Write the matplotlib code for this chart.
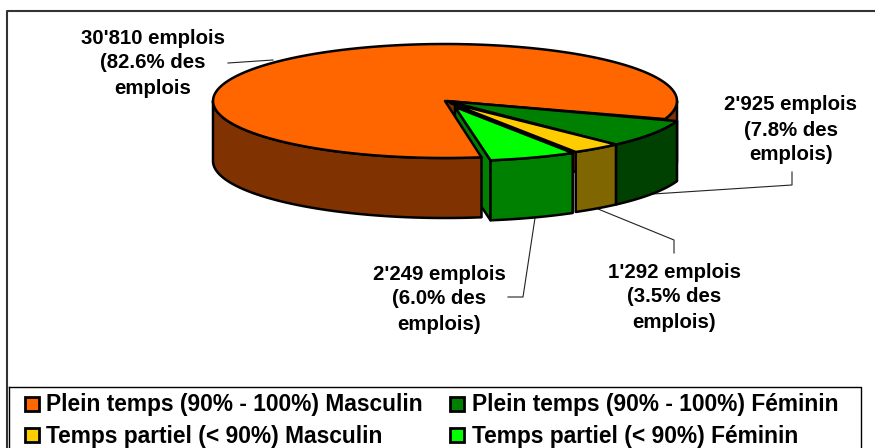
import numpy as np
import matplotlib
matplotlib.use("Agg")
import matplotlib.pyplot as plt
from matplotlib.patches import Polygon, Rectangle

plt.rcParams['font.family'] = ['Liberation Sans', 'DejaVu Sans']

# data, in drawing order round the pie (clockwise from the right)
emplois = [2925, 1292, 2249, 30810]
labels = ["2'925 emplois\n(7.8% des\nemplois)",
          "1'292 emplois\n(3.5% des\nemplois)",
          "2'249 emplois\n(6.0% des\nemplois)",
          "30'810 emplois\n(82.6% des\nemplois"]
legend_names = ["Plein temps (90% - 100%) Masculin", "Plein temps (90% - 100%) Féminin",
                "Temps partiel (< 90%) Masculin", "Temps partiel (< 90%) Féminin"]
legend_cols = ["#ff6600", "#008000", "#ffcc00", "#00ff00"]

top_cols = ["#008000", "#ffcc00", "#00ff00", "#ff6600"]
side_cols = ["#004000", "#806600", "#008000", "#803300"]
# pixel shifts of each slice: outer edge and apex
rim_shift = [(12, 2), (12, 2), (9, 3), (0, 0)]
tip_shift = [(2, 0), (5, 2), (10, 6), (0, 0)]
label_xy = [(791, 130), (674, 297), (439, 299), (153, 63)]
leaders = [[(653, 194), (792, 185), (792, 172)],
           [(598, 209), (674, 240), (674, 253)],
           [(535, 218), (523, 297), (508, 297)],
           [(273, 60), (228, 63)]]

cx, cy, rx, ry, depth = 445, 101, 232, 57, 60
start = 18.5
LW = 1.8

fig = plt.figure(figsize=(8.75, 4.48), dpi=100)
ax = fig.add_axes([0, 0, 1, 1])
ax.set_xlim(0, 875)
ax.set_ylim(448, 0)
ax.axis("off")


def arc(t0, t1, shift=(0, 0), dz=0):
    t = np.radians(np.linspace(t0, t1, 120))
    return np.column_stack([cx + shift[0] + rx * np.cos(t),
                            cy + shift[1] + dz + ry * np.sin(t)])


def poly(pts, col, z):
    ax.add_patch(Polygon(pts, closed=True, fc=col, ec="black", lw=LW, joinstyle="round", zorder=z))


def wall(t0, t1, shift, col, z):
    a = arc(t0, t1, shift)
    b = arc(t0, t1, shift, depth)
    poly(np.vstack([a, b[::-1]]), col, z)


# frame
ax.plot([7, 7, 875], [448, 11, 11], color="#333333", lw=1.5, zorder=1)

angles = start + np.cumsum([0] + emplois) / sum(emplois) * 360

# orange first, the small slices sit in front of it
t0, t1 = angles[3], angles[4]
# inner cut face of the orange, seen behind the small slices
out = arc(t1, t1)[0]
poly([[cx, cy], out, out + [0, depth], [cx, cy + depth]], side_cols[3], 2)
# cut face of the light green slice shows as a strip beside the orange
tip = np.array([cx + tip_shift[2][0], cy + tip_shift[2][1]])
out = arc(angles[3], angles[3], rim_shift[2])[0]
poly([tip, out, out + [0, depth], tip + [0, depth]], side_cols[2], 2.5)
wall(t0, 180, (0, 0), side_cols[3], 3)
wall(360, t1, (0, 0), side_cols[3], 3)
poly(np.vstack([[cx, cy], arc(t0, t1)]), top_cols[3], 4)

for i in range(3):
    t0, t1 = angles[i], angles[i + 1]
    wall(t0, t1, rim_shift[i], side_cols[i], 5 + i)
    tip = (cx + tip_shift[i][0], cy + tip_shift[i][1])
    poly(np.vstack([[tip], arc(t0, t1, rim_shift[i])]), top_cols[i], 5 + i)

# value labels and leader lines
for lab, (x, y), line in zip(labels, label_xy, leaders):
    ax.text(x, y, lab, ha="center", va="center", fontsize=14.7, fontweight="bold",
            linespacing=1.4, color="black", zorder=10)
    ax.plot(*zip(*line), color="#222222", lw=0.8, zorder=1)

# legend
ax.plot([9, 9], [448, 387], color="black", lw=1, zorder=1)
ax.plot([9, 861, 861], [387, 387, 448], color="black", lw=1, zorder=1)
leg_x = [(25, 46), (450, 472)]
leg_y = [404, 435]
for k, (name, col) in enumerate(zip(legend_names, legend_cols)):
    bx, tx = leg_x[k % 2]
    y = leg_y[k // 2]
    ax.add_patch(Rectangle((bx, y - 7), 14, 14, fc=col, ec="black", lw=2, zorder=9))
    ax.text(tx, y + 1, name, ha="left", va="center", fontsize=16.4, fontweight="bold", color="black", zorder=10)

fig.savefig("out.png", dpi=100)
